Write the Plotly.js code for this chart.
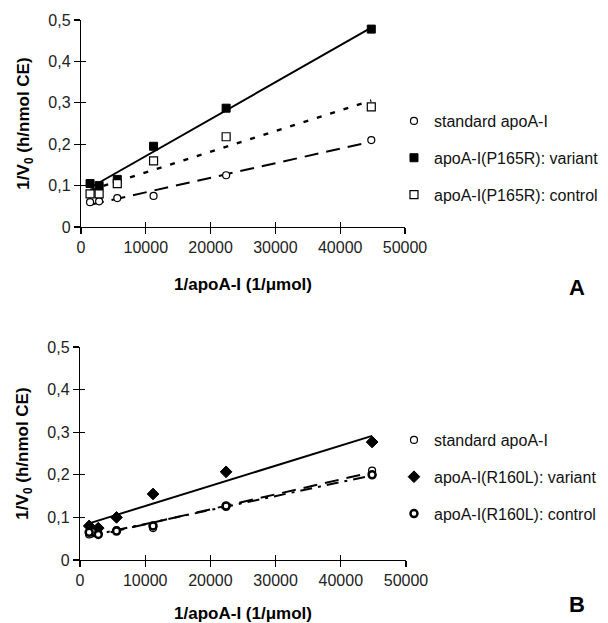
<!DOCTYPE html>
<html>
<head>
<meta charset="utf-8">
<script src="https://cdn.plot.ly/plotly-3.0.1.min.js"></script>
<style>html,body{margin:0;padding:0;background:#fff;}#chart{width:608px;height:623px;}</style>
</head>
<body>
<div id="chart"></div>
<script>
// ---- data ----
const xValues = [1400, 2800, 5600, 11200, 22400, 44800];
const aStandard = [0.060, 0.062, 0.070, 0.075, 0.125, 0.210];
const aVariant  = [0.105, 0.100, 0.115, 0.195, 0.287, 0.478];
const aControl  = [0.080, 0.080, 0.105, 0.160, 0.218, 0.290];
const bStandard = [0.060, 0.062, 0.070, 0.075, 0.125, 0.210];
const bVariant  = [0.080, 0.075, 0.100, 0.155, 0.207, 0.277];
const bControl  = [0.065, 0.060, 0.068, 0.080, 0.127, 0.200];
const namesA = ['standard apoA-I', 'apoA-I(P165R): variant', 'apoA-I(P165R): control'];
const namesB = ['standard apoA-I', 'apoA-I(R160L): variant', 'apoA-I(R160L): control'];
const yTickVals = [0, 0.1, 0.2, 0.3, 0.4, 0.5];
const yTickText = ['0', '0,1', '0,2', '0,3', '0,4', '0,5'];
const xTickVals = [0, 10000, 20000, 30000, 40000, 50000];
const xTickText = ['0', '10000', '20000', '30000', '40000', '50000'];
const xTitle = '1/apoA-I (1/μmol)';
const yTitle = '1/V<sub>0</sub> (h/nmol CE)';

// ---- linear regression trend lines ----
function fitLine(x, y) {
  const n = x.length;
  const mx = x.reduce((a, b) => a + b, 0) / n;
  const my = y.reduce((a, b) => a + b, 0) / n;
  let sxy = 0, sxx = 0;
  for (let i = 0; i < n; i++) { sxy += (x[i] - mx) * (y[i] - my); sxx += (x[i] - mx) ** 2; }
  const m = sxy / sxx, c = my - m * mx;
  const xs = [x[0], x[n - 1]];
  return { x: xs, y: xs.map(v => m * v + c) };
}

const FONT = 'Liberation Sans, Arial, sans-serif';
const traces = [];
function addLine(y, xa, ya, dash, width) {
  const f = fitLine(xValues, y);
  traces.push({ x: f.x, y: f.y, xaxis: xa, yaxis: ya, mode: 'lines', showlegend: false, hoverinfo: 'skip',
    line: { color: '#000', width: width, dash: dash } });
}
function addPts(y, xa, ya, name, legend, symbol, size, fill, lw) {
  traces.push({ x: xValues, y: y, xaxis: xa, yaxis: ya, mode: 'markers', name: name, legend: legend,
    legendgroup: legend + name,
    marker: { symbol: symbol, size: size, color: fill, line: { color: '#000', width: lw } } });
}
// Panel A
addLine(aStandard, 'x', 'y', '14px,8px', 2);
addLine(aControl, 'x', 'y', '5px,9px', 2.5);
addLine(aVariant, 'x', 'y', 'solid', 2);
addPts(aStandard, 'x', 'y', namesA[0], 'legend', 'circle', 7, '#fff', 1.2);
addPts(aVariant, 'x', 'y', namesA[1], 'legend', 'square', 8, '#000', 1);
addPts(aControl, 'x', 'y', namesA[2], 'legend', 'square', 8, '#fff', 1.2);
// Panel B
addLine(bStandard, 'x2', 'y2', '14px,8px', 2);
addLine(bControl, 'x2', 'y2', '12px,6px,3px,6px', 2);
addLine(bVariant, 'x2', 'y2', 'solid', 2);
addPts(bStandard, 'x2', 'y2', namesB[0], 'legend2', 'circle', 7, '#fff', 1.2);
addPts(bVariant, 'x2', 'y2', namesB[1], 'legend2', 'diamond', 9, '#000', 1);
addPts(bControl, 'x2', 'y2', namesB[2], 'legend2', 'circle', 7, '#fff', 2.5);
// empty traces so the overlay axes (inner half of crossing ticks) are drawn
traces.push({ x: [null], y: [null], xaxis: 'x3', yaxis: 'y3', mode: 'markers', showlegend: false, hoverinfo: 'skip' });
traces.push({ x: [null], y: [null], xaxis: 'x4', yaxis: 'y4', mode: 'markers', showlegend: false, hoverinfo: 'skip' });

function xAxis(domain, anchor) {
  return { domain: domain, anchor: anchor, range: [0, 50000], tickvals: xTickVals, ticktext: xTickText,
    ticks: 'outside', ticklen: 6, tickwidth: 1.2, tickcolor: '#000', showline: true, linecolor: '#000', linewidth: 1.2,
    showgrid: false, zeroline: false, automargin: false, tickfont: { size: 16, color: '#222', family: FONT },
    title: { text: xTitle, standoff: 22, font: { size: 17, weight: 'bold', color: '#000', family: FONT } } };
}
function yAxis(domain, anchor) {
  return { domain: domain, anchor: anchor, range: [0, 0.5], tickvals: yTickVals, ticktext: yTickText,
    ticks: 'outside', ticklen: 6, tickwidth: 1.2, tickcolor: '#000', showline: true, linecolor: '#000', linewidth: 1.2,
    showgrid: false, zeroline: false, automargin: false, tickfont: { size: 16, color: '#222', family: FONT },
    title: { text: yTitle, standoff: 14, font: { size: 17, weight: 'bold', color: '#000', family: FONT } } };
}
function innerAxis(over, anchor, vals, range) {
  return { overlaying: over, anchor: anchor, range: range, tickvals: vals, ticks: 'inside', ticklen: 5,
    tickwidth: 1.2, tickcolor: '#000', showticklabels: false, showline: false, showgrid: false, zeroline: false };
}
function legendAt(y) {
  return { x: 0.648, xanchor: 'left', y: y, yanchor: 'top', bgcolor: 'rgba(0,0,0,0)', borderwidth: 0,
    traceorder: 'grouped', tracegroupgap: 13, font: { size: 16, color: '#111', family: FONT } };
}

const layout = {
  width: 608, height: 623, margin: { l: 0, r: 0, t: 0, b: 0 },
  paper_bgcolor: '#fff', plot_bgcolor: 'rgba(0,0,0,0)', font: { family: FONT, color: '#000' },
  xaxis: xAxis([0.1332, 0.6661], 'y'), yaxis: yAxis([0.6356, 0.9679], 'x'),
  xaxis2: xAxis([0.1316, 0.6678], 'y2'), yaxis2: yAxis([0.1011, 0.443], 'x2'),
  xaxis3: Object.assign(innerAxis('x', 'y3', xTickVals, [0, 50000]), { domain: [0.1332, 0.6661] }),
  yaxis3: Object.assign(innerAxis('y', 'x3', yTickVals, [0, 0.5]), { domain: [0.6356, 0.9679] }),
  xaxis4: Object.assign(innerAxis('x2', 'y4', xTickVals, [0, 50000]), { domain: [0.1316, 0.6678] }),
  yaxis4: Object.assign(innerAxis('y2', 'x4', yTickVals, [0, 0.5]), { domain: [0.1011, 0.443] }),
  legend: legendAt(0.833), legend2: legendAt(0.321),
  annotations: [
    { text: 'A', xref: 'paper', yref: 'paper', x: 0.949, y: 0.539, xanchor: 'center', yanchor: 'middle', showarrow: false, font: { size: 22, weight: 'bold', family: FONT } },
    { text: 'B', xref: 'paper', yref: 'paper', x: 0.949, y: 0.029, xanchor: 'center', yanchor: 'middle', showarrow: false, font: { size: 22, weight: 'bold', family: FONT } }
  ]
};
Plotly.newPlot('chart', traces, layout, { staticPlot: true, displayModeBar: false });
</script>
</body>
</html>
